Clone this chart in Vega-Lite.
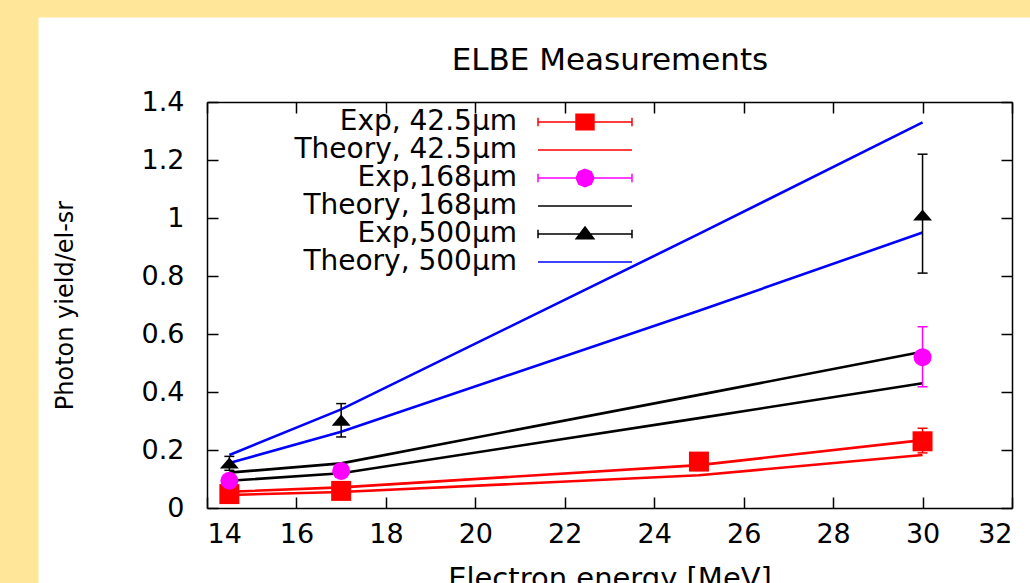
{
  "$schema": "https://vega.github.io/schema/vega-lite/v6.json",
  "width": 992,
  "height": 566,
  "autosize": {"type": "none"},
  "padding": {"left": 38, "top": 17, "right": 0, "bottom": 0},
  "background": "#FFE699",
  "view": {"fill": "#ffffff", "stroke": "transparent"},
  "datasets": {
    "theory": [
      {"series": "Theory, 42.5µm", "bound": "upper", "E": 14.5, "y": 0.056},
      {"series": "Theory, 42.5µm", "bound": "upper", "E": 17, "y": 0.071},
      {"series": "Theory, 42.5µm", "bound": "upper", "E": 25, "y": 0.148},
      {"series": "Theory, 42.5µm", "bound": "upper", "E": 30, "y": 0.234},
      {"series": "Theory, 42.5µm", "bound": "lower", "E": 14.5, "y": 0.045},
      {"series": "Theory, 42.5µm", "bound": "lower", "E": 17, "y": 0.055},
      {"series": "Theory, 42.5µm", "bound": "lower", "E": 25, "y": 0.113},
      {"series": "Theory, 42.5µm", "bound": "lower", "E": 30, "y": 0.183},
      {"series": "Theory, 168µm", "bound": "upper", "E": 14.5, "y": 0.122},
      {"series": "Theory, 168µm", "bound": "upper", "E": 17, "y": 0.154},
      {"series": "Theory, 168µm", "bound": "upper", "E": 25, "y": 0.39},
      {"series": "Theory, 168µm", "bound": "upper", "E": 30, "y": 0.539},
      {"series": "Theory, 168µm", "bound": "lower", "E": 14.5, "y": 0.094},
      {"series": "Theory, 168µm", "bound": "lower", "E": 17, "y": 0.12},
      {"series": "Theory, 168µm", "bound": "lower", "E": 25, "y": 0.31},
      {"series": "Theory, 168µm", "bound": "lower", "E": 30, "y": 0.43},
      {"series": "Theory, 500µm", "bound": "upper", "E": 14.5, "y": 0.183},
      {"series": "Theory, 500µm", "bound": "upper", "E": 17, "y": 0.34},
      {"series": "Theory, 500µm", "bound": "upper", "E": 25, "y": 0.945},
      {"series": "Theory, 500µm", "bound": "upper", "E": 30, "y": 1.33},
      {"series": "Theory, 500µm", "bound": "lower", "E": 14.5, "y": 0.155},
      {"series": "Theory, 500µm", "bound": "lower", "E": 17, "y": 0.263},
      {"series": "Theory, 500µm", "bound": "lower", "E": 25, "y": 0.68},
      {"series": "Theory, 500µm", "bound": "lower", "E": 30, "y": 0.95}
    ],
    "exp": [
      {"series": "Exp, 42.5µm", "E": 14.5, "y": 0.048, "lo": 0.043, "hi": 0.053},
      {"series": "Exp, 42.5µm", "E": 17, "y": 0.059, "lo": 0.054, "hi": 0.064},
      {"series": "Exp, 42.5µm", "E": 25, "y": 0.16, "lo": 0.13, "hi": 0.19},
      {"series": "Exp, 42.5µm", "E": 30, "y": 0.23, "lo": 0.19, "hi": 0.275},
      {"series": "Exp,168µm", "E": 14.5, "y": 0.094, "lo": 0.086, "hi": 0.102},
      {"series": "Exp,168µm", "E": 17, "y": 0.128, "lo": 0.12, "hi": 0.136},
      {"series": "Exp,168µm", "E": 30, "y": 0.52, "lo": 0.418, "hi": 0.625},
      {"series": "Exp,500µm", "E": 14.5, "y": 0.155, "lo": 0.13, "hi": 0.178},
      {"series": "Exp,500µm", "E": 17, "y": 0.303, "lo": 0.245, "hi": 0.36},
      {"series": "Exp,500µm", "E": 30, "y": 1.01, "lo": 0.81, "hi": 1.22}
    ]
  },
  "resolve": {"axis": {"x": "independent", "y": "independent"}},
  "layer": [
    {
      "data": {"name": "exp"},
      "mark": {"type": "point", "filled": true, "opacity": 0},
      "encoding": {
        "color": {"field": "series", "type": "nominal",
          "scale": {
            "domain": ["Exp, 42.5µm", "Theory, 42.5µm", "Exp,168µm", "Theory, 168µm", "Exp,500µm", "Theory, 500µm"],
            "range": ["#ff0000", "#ff0000", "#ff00ff", "#000000", "#000000", "#0000ff"]
          },
          "legend": {"orient": "none", "legendX": 533, "legendY": 91, "title": null, "symbolOpacity": 1,
                     "encode": {"symbols": {"update": {"stroke": {"scale": "color", "field": "value"}, "strokeWidth": {"value": 1.5}}}}}
        },
        "shape": {"field": "series", "type": "nominal",
          "scale": {
            "domain": ["Exp, 42.5µm", "Theory, 42.5µm", "Exp,168µm", "Theory, 168µm", "Exp,500µm", "Theory, 500µm"],
            "range": [
              "M-3.615,0H3.615M-3.615,-0.33V0.33M3.615,-0.33V0.33M-0.69,-0.6H0.69V0.6H-0.69Z",
              "M-3.615,0H3.615",
              "M-3.615,0H3.615M-3.615,-0.33V0.33M3.615,-0.33V0.33M-0.68,0L-0.48,-0.47L0,-0.66L0.48,-0.47L0.68,0L0.48,0.47L0,0.66L-0.48,0.47Z",
              "M-3.615,0H3.615",
              "M-3.615,0H3.615M-3.615,-0.33V0.33M3.615,-0.33V0.33M0,-0.54L0.68,0.36L-0.68,0.36Z",
              "M-3.615,0H3.615"
            ]
          },
          "legend": {"orient": "none", "legendX": 533, "legendY": 91, "title": null, "symbolOpacity": 1,
                     "encode": {"symbols": {"update": {"stroke": {"scale": "color", "field": "value"}, "strokeWidth": {"value": 1.5}}}}}
        }
      }
    },
    {
      "data": {"name": "theory"},
      "mark": {"type": "line", "strokeWidth": 2.6},
      "encoding": {
        "x": {"field": "E", "type": "quantitative",
              "scale": {"domain": [14, 32], "range": [169, 974], "nice": false, "zero": false},
              "axis": {"orient": "bottom", "offset": -75, "title": "Electron energy [MeV]",
                       "values": [14, 16, 18, 20, 22, 24, 26, 28, 30, 32],
                       "labelPadding": 24, "titlePadding": 17, "titleFontSize": 29}},
        "y": {"field": "y", "type": "quantitative",
              "scale": {"domain": [0, 1.4], "range": [491, 85], "nice": false, "zero": false},
              "axis": {"orient": "left", "offset": -169, "title": "Photon yield/el-sr",
                       "values": [0, 0.2, 0.4, 0.6, 0.8, 1, 1.2, 1.4], "format": "~g",
                       "labelPadding": 34, "titlePadding": 64, "titleFontSize": 24}},
        "color": {"field": "series", "type": "nominal", "legend": null},
        "detail": {"field": "bound"}
      }
    },
    {
      "data": {"name": "exp"},
      "mark": {"type": "rule", "strokeWidth": 1.5},
      "encoding": {
        "x": {"field": "E", "type": "quantitative",
              "axis": {"orient": "top", "offset": -85, "labels": false, "title": "ELBE Measurements",
                       "values": [14, 16, 18, 20, 22, 24, 26, 28, 30, 32],
                       "titlePadding": 25, "titleFontSize": 31}},
        "y": {"field": "lo", "type": "quantitative",
              "axis": {"orient": "right", "offset": -18, "labels": false, "title": null,
                       "values": [0, 0.2, 0.4, 0.6, 0.8, 1, 1.2, 1.4]}},
        "y2": {"field": "hi"},
        "color": {"field": "series", "type": "nominal", "legend": null}
      }
    },
    {
      "data": {"name": "exp"},
      "mark": {"type": "tick", "orient": "horizontal", "size": 10, "thickness": 1.5, "opacity": 1},
      "encoding": {
        "x": {"field": "E", "type": "quantitative", "axis": null},
        "y": {"field": "lo", "type": "quantitative", "axis": null},
        "color": {"field": "series", "type": "nominal", "legend": null}
      }
    },
    {
      "data": {"name": "exp"},
      "mark": {"type": "tick", "orient": "horizontal", "size": 10, "thickness": 1.5, "opacity": 1},
      "encoding": {
        "x": {"field": "E", "type": "quantitative", "axis": null},
        "y": {"field": "hi", "type": "quantitative", "axis": null},
        "color": {"field": "series", "type": "nominal", "legend": null}
      }
    },
    {
      "data": {"name": "exp"},
      "transform": [{"filter": "datum.series == 'Exp, 42.5µm'"}],
      "mark": {"type": "point", "shape": "square", "size": 400, "filled": true, "opacity": 1, "color": "#ff0000", "strokeWidth": 0},
      "encoding": {
        "x": {"field": "E", "type": "quantitative", "axis": null},
        "y": {"field": "y", "type": "quantitative", "axis": null}
      }
    },
    {
      "data": {"name": "exp"},
      "transform": [{"filter": "datum.series == 'Exp,168µm'"}],
      "mark": {"type": "point", "shape": "circle", "size": 324, "filled": true, "opacity": 1, "color": "#ff00ff", "strokeWidth": 0},
      "encoding": {
        "x": {"field": "E", "type": "quantitative", "axis": null},
        "y": {"field": "y", "type": "quantitative", "axis": null}
      }
    },
    {
      "data": {"name": "exp"},
      "transform": [{"filter": "datum.series == 'Exp,500µm'"}],
      "mark": {"type": "point", "shape": "M0,-0.58L1,0.58L-1,0.58Z", "size": 361, "filled": true, "opacity": 1, "color": "#000000", "strokeWidth": 0},
      "encoding": {
        "x": {"field": "E", "type": "quantitative", "axis": null},
        "y": {"field": "y", "type": "quantitative", "axis": null}
      }
    }
  ],
  "config": {
    "font": "DejaVu Sans",
    "view": {"fill": "#ffffff", "stroke": "transparent"},
    "axis": {
      "grid": false,
      "domainColor": "#000000",
      "domainWidth": 1.5,
      "tickColor": "#000000",
      "tickWidth": 1.5,
      "tickSize": -11,
      "labelFont": "DejaVu Sans",
      "labelFontSize": 27,
      "labelColor": "#000000",
      "titleFont": "DejaVu Sans",
      "titleFontWeight": "normal",
      "titleColor": "#000000"
    },
    "legend": {
      "labelFont": "DejaVu Sans",
      "labelFontSize": 28,
      "labelColor": "#000000",
      "labelAlign": "right",
      "labelOffset": -82,
      "labelLimit": 600,
      "symbolSize": 676,
      "symbolStrokeWidth": 1.5,
      "symbolOpacity": 1,
      "rowPadding": 0,
      "padding": 0
    }
  }
}
